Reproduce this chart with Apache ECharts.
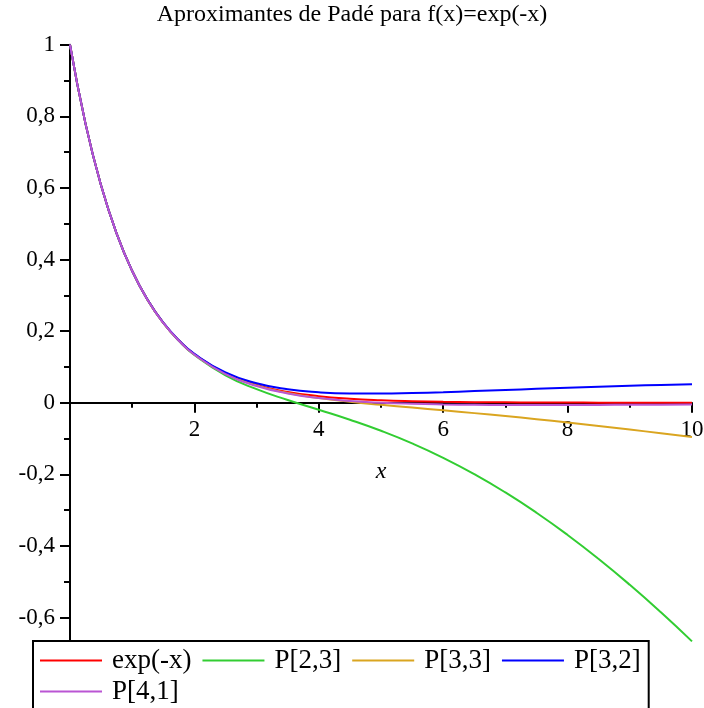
<!DOCTYPE html>
<html>
<head>
<meta charset="utf-8">
<title>Aproximantes de Padé</title>
<script src="https://cdn.jsdelivr.net/npm/echarts@6/dist/echarts.min.js"></script>
<style>
  html, body { margin: 0; padding: 0; background: #fff; }
  #chart { width: 704px; height: 708px; }
</style>
</head>
<body>
<div id="chart"></div>
<script>
// Sample abscissas shared by all curves (denser where the curves bend sharply)
const xs = [0, 0.25, 0.5, 0.75, 1, 1.25, 1.5, 1.75, 2, 2.5, 3, 3.5, 4, 4.5, 5, 5.5, 6, 6.5, 7, 7.5, 8, 8.5, 9, 9.5, 10];

// exp(-x)
const expVals = [1, 0.778801, 0.60653, 0.472367, 0.36788, 0.286505, 0.22313, 0.173774, 0.13534, 0.082085, 0.049787,
  0.030197, 0.018316, 0.011109, 0.0067379, 0.0040868, 0.0024788, 0.0015034, 0.00091188, 0.00055308, 0.00033546,
  0.00020347, 0.00012341, 0.000074852, 0.0000454];

// P[2,3]
const p23Vals = [1, 0.778801, 0.60653, 0.472353, 0.367816, 0.286304, 0.222628, 0.172709, 0.133333, 0.076577, 0.037736,
  0.0076072, -0.019608, -0.047541, -0.078431, -0.113616, -0.153846, -0.19949, -0.250667, -0.307339, -0.369369,
  -0.436558, -0.508671, -0.585458, -0.666667];

// P[3,3]
const p33Vals = [1, 0.778801, 0.606531, 0.472366, 0.367876, 0.28649, 0.223089, 0.173676, 0.135135, 0.081456, 0.048276,
  0.02717, 0.012987, 0.0025893, -0.0059172, -0.013657, -0.021277, -0.02913, -0.03739, -0.046119, -0.055319,
  -0.064954, -0.074968, -0.085301, -0.09589];

// P[3,2]
const p32Vals = [1, 0.778801, 0.606532, 0.472377, 0.367925, 0.286637, 0.223433, 0.174366, 0.136364, 0.084507, 0.054348,
  0.037597, 0.029126, 0.025738, 0.025424, 0.026915, 0.029412, 0.032407, 0.035584, 0.038748, 0.041783,
  0.044622, 0.047231, 0.049598, 0.051724];

// P[4,1]
const p41Vals = [1, 0.778801, 0.606529, 0.47235, 0.367816, 0.286336, 0.222774, 0.173139, 0.134328, 0.0801, 0.046647,
  0.025898, 0.012987, 0.0049586, 0, -0.0030128, -0.0047847, -0.0057627, -0.006233, -0.0063802, -0.0063247,
  -0.0061448, -0.0058921, -0.0056002, -0.005291];

const seriesNames = ['exp(-x)', 'P[2,3]', 'P[3,3]', 'P[3,2]', 'P[4,1]'];
const seriesValues = [expVals, p23Vals, p33Vals, p32Vals, p41Vals];
const seriesColors = ['#ff0000', '#32cd32', '#daa520', '#0000ff', '#ba55d3'];

// Legend rows
const legendRow1 = ['exp(-x)', 'P[2,3]', 'P[3,3]', 'P[3,2]'];
const legendRow2 = ['P[4,1]'];

// Axis ranges
const X_MIN = 0, X_MAX = 10, X_STEP = 2;
const Y_MIN = -0.8, Y_MAX = 1, Y_STEP = 0.2;

const serif = "'Liberation Serif', 'Times New Roman', serif";

// Plot area in pixels
const CHART_H = 708;
const GRID = { left: 70, right: 12, top: 44.7, bottom: 18.9 };
const plotH = CHART_H - GRID.top - GRID.bottom;
// Shift the horizontal axis (line, ticks, labels, name) up to y = 0
const xAxisOffset = -(0 - Y_MIN) * plotH / (Y_MAX - Y_MIN);

function pairs(ys) {
  return xs.map((x, i) => [x, ys[i]]);
}

function yLabel(v) {
  const r = Math.round(v * 10) / 10;
  if (r < -0.7) return '';
  return String(r).replace('.', ',');
}

const legendCommon = {
  left: 33,
  orient: 'horizontal',
  itemGap: 11,
  itemWidth: 62,
  itemHeight: 2,
  icon: 'rect',
  borderRadius: 0,
  selectedMode: false,
  textStyle: { fontFamily: serif, fontSize: 27, color: '#000', padding: [0, 0, 0, 5] }
};

const chart = echarts.init(document.getElementById('chart'), null, { renderer: 'canvas' });

chart.setOption({
  animation: false,
  backgroundColor: '#fff',
  title: {
    text: 'Aproximantes de Padé para f(x)=exp(-x)',
    left: 'center',
    top: 3,
    padding: 0,
    textStyle: { fontFamily: serif, fontSize: 24, fontWeight: 'normal', color: '#000' }
  },
  grid: {
    left: GRID.left, right: GRID.right, top: GRID.top, bottom: GRID.bottom,
    containLabel: false,
    outerBoundsMode: 'none'
  },
  xAxis: {
    type: 'value',
    min: X_MIN,
    max: X_MAX,
    interval: X_STEP,
    position: 'bottom',
    offset: xAxisOffset,
    name: 'x',
    nameLocation: 'middle',
    nameGap: 57,
    nameTextStyle: { fontFamily: serif, fontStyle: 'italic', fontSize: 24, color: '#000' },
    axisLine: { onZero: false, lineStyle: { color: '#000', width: 2 } },
    axisTick: { length: 10, lineStyle: { color: '#000', width: 2 } },
    minorTick: { show: true, splitNumber: 2, length: 5, lineStyle: { color: '#000', width: 2 } },
    splitLine: { show: false },
    axisLabel: {
      margin: 16,
      fontFamily: serif,
      fontSize: 23,
      color: '#000',
      formatter: v => (v === 0 ? '' : String(v))
    }
  },
  yAxis: {
    type: 'value',
    min: Y_MIN,
    max: Y_MAX,
    interval: Y_STEP,
    axisLine: { onZero: false, lineStyle: { color: '#000', width: 2 } },
    axisTick: { length: 10, lineStyle: { color: '#000', width: 2 } },
    minorTick: { show: true, splitNumber: 2, length: 6, lineStyle: { color: '#000', width: 2 } },
    splitLine: { show: false },
    axisLabel: {
      margin: 15,
      fontFamily: serif,
      fontSize: 23,
      color: '#000',
      formatter: yLabel
    }
  },
  legend: [
    Object.assign({}, legendCommon, {
      data: legendRow1,
      top: 641,
      padding: [6, 8, 45, 7],
      backgroundColor: '#fff',
      borderColor: '#000',
      borderWidth: 2,
      z: 4
    }),
    Object.assign({}, legendCommon, {
      data: legendRow2,
      top: 672,
      padding: [6, 8, 0, 7],
      backgroundColor: 'transparent',
      borderWidth: 0,
      z: 5
    })
  ],
  series: seriesNames.map((name, i) => ({
    name: name,
    type: 'line',
    data: pairs(seriesValues[i]),
    smooth: true,
    symbol: 'none',
    lineStyle: { color: seriesColors[i], width: 2 },
    itemStyle: { color: seriesColors[i] }
  }))
});
</script>
</body>
</html>
